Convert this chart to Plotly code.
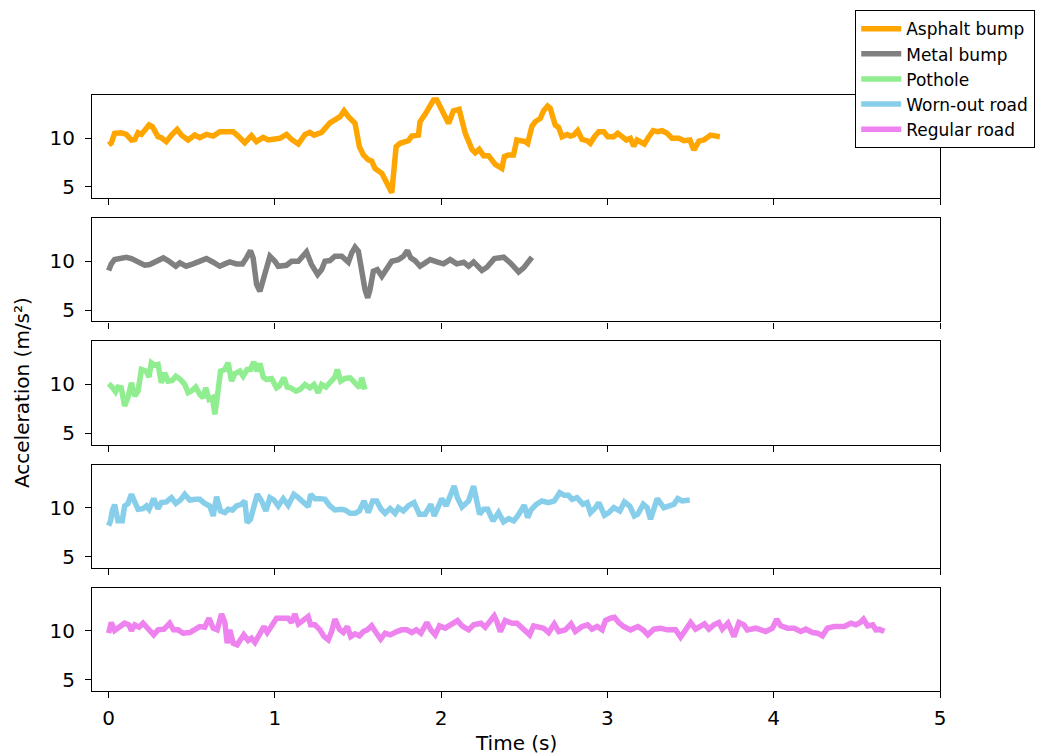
import plotly.graph_objects as go
from plotly.subplots import make_subplots

series_names = ["Asphalt bump", "Metal bump", "Pothole", "Worn-out road", "Regular road"]
series_colors = ["#FFA500", "#808080", "#90EE90", "#87CEEB", "#EE82EE"]

t_asphalt = [0, 0.016, 0.036, 0.076, 0.106, 0.137, 0.157, 0.177, 0.197, 0.217,
             0.243, 0.263, 0.297, 0.317, 0.347, 0.378, 0.412, 0.438, 0.478, 0.518,
             0.548, 0.588, 0.629, 0.669, 0.749, 0.779, 0.819, 0.859, 0.889, 0.929,
             0.96, 1.03, 1.07, 1.1, 1.141, 1.181, 1.21, 1.235, 1.281, 1.331,
             1.371, 1.392, 1.416, 1.442, 1.482, 1.508, 1.532, 1.562, 1.582, 1.602,
             1.643, 1.663, 1.693, 1.703, 1.729, 1.753, 1.803, 1.823, 1.863, 1.873,
             1.904, 1.954, 1.974, 2.014, 2.044, 2.074, 2.108, 2.145, 2.185, 2.205,
             2.229, 2.255, 2.285, 2.325, 2.365, 2.38, 2.405, 2.435, 2.455, 2.506,
             2.52, 2.546, 2.566, 2.596, 2.616, 2.64, 2.656, 2.686, 2.706, 2.727,
             2.757, 2.777, 2.797, 2.821, 2.847, 2.877, 2.897, 2.922, 2.948, 2.978,
             3.002, 3.038, 3.062, 3.088, 3.114, 3.138, 3.158, 3.178, 3.2, 3.222,
             3.249, 3.275, 3.299, 3.329, 3.359, 3.389, 3.43, 3.46, 3.496, 3.52,
             3.55, 3.58, 3.62, 3.676]
a_asphalt = [9.3, 9.5, 10.48, 10.54, 10.37, 9.8, 9.86, 10.54, 10.37, 10.8,
             11.33, 11.16, 10.14, 10.03, 9.63, 10.3, 10.88, 10.3, 9.8, 10.3,
             10.03, 10.37, 10.2, 10.65, 10.65, 10.2, 9.52, 10.24, 9.63, 10.07,
             9.8, 9.97, 10.37, 9.86, 9.39, 10.37, 10.58, 10.3, 10.58, 11.56,
             12.07, 12.18, 12.79, 12.18, 11.5, 9.12, 8.27, 7.76, 7.65, 6.9,
             6.4, 5.71, 4.46, 4.42, 9.12, 9.46, 9.73, 10.2, 10.3, 11.67,
             12.45, 13.88, 13.88, 12.35, 11.5, 12.79, 12.93, 10.48, 8.84, 8.5,
             8.84, 8.2, 8.2, 7.31, 6.9, 8.1, 8.27, 8.27, 9.8, 9.63,
             9.46, 11.2, 11.67, 12.0, 12.79, 13.27, 13.03, 11.33, 11.09, 10.14,
             10.37, 10.2, 10.3, 10.75, 9.86, 9.73, 9.46, 10.14, 10.65, 10.65,
             10.14, 10.14, 10.48, 10.14, 9.8, 9.97, 9.18, 9.8, 9.63, 9.39,
             10.14, 10.75, 10.65, 10.75, 10.48, 9.97, 9.97, 9.73, 9.8, 8.78,
             9.69, 9.8, 10.3, 10.14]

t_metal = [0, 0.016, 0.036, 0.066, 0.106, 0.137, 0.167, 0.217, 0.247, 0.287,
           0.329, 0.357, 0.404, 0.428, 0.466, 0.508, 0.548, 0.588, 0.629, 0.668,
           0.699, 0.729, 0.769, 0.805, 0.829, 0.853, 0.869, 0.89, 0.91, 0.94,
           0.97, 1.0, 1.02, 1.07, 1.1, 1.141, 1.19, 1.22, 1.257, 1.281,
           1.301, 1.331, 1.361, 1.402, 1.442, 1.462, 1.482, 1.502, 1.522, 1.542,
           1.558, 1.572, 1.592, 1.616, 1.643, 1.673, 1.703, 1.743, 1.773, 1.797,
           1.817, 1.843, 1.873, 1.904, 1.934, 1.974, 2.014, 2.054, 2.094, 2.135,
           2.165, 2.195, 2.245, 2.275, 2.32, 2.345, 2.376, 2.416, 2.466, 2.496,
           2.546]
a_metal = [9.05, 9.73, 10.17, 10.27, 10.41, 10.27, 10.0, 9.59, 9.66, 10.07,
           10.34, 10.07, 9.49, 9.83, 9.49, 9.73, 10.0, 10.27, 9.9, 9.49,
           9.73, 9.93, 9.73, 9.73, 10.34, 11.09, 10.34, 7.62, 6.94, 8.98,
           10.51, 10.0, 9.49, 9.59, 10.0, 10.0, 10.95, 9.66, 8.64, 9.15,
           10.0, 10.07, 10.51, 10.51, 9.9, 10.85, 11.43, 11.02, 8.81, 7.11,
           6.26, 7.11, 8.98, 9.15, 8.47, 9.32, 10.0, 10.17, 10.51, 11.09,
           10.34, 10.07, 9.49, 9.83, 10.17, 9.93, 9.73, 10.17, 9.73, 9.9,
           9.49, 9.93, 9.05, 9.39, 10.27, 10.34, 10.41, 9.83, 8.91, 9.32,
           10.41]

t_pothole = [0, 0.016, 0.042, 0.056, 0.076, 0.096, 0.116, 0.137, 0.157, 0.177,
             0.197, 0.227, 0.243, 0.257, 0.277, 0.297, 0.317, 0.337, 0.357, 0.383,
             0.404, 0.432, 0.458, 0.478, 0.498, 0.524, 0.548, 0.568, 0.584, 0.604,
             0.624, 0.639, 0.653, 0.673, 0.699, 0.719, 0.739, 0.759, 0.789, 0.809,
             0.833, 0.853, 0.873, 0.89, 0.91, 0.93, 0.95, 0.98, 1.01, 1.026,
             1.054, 1.074, 1.094, 1.127, 1.151, 1.181, 1.211, 1.235, 1.261, 1.281,
             1.307, 1.335, 1.361, 1.375, 1.396, 1.422, 1.452, 1.472, 1.492, 1.508,
             1.522, 1.542]
a_pothole = [10.07, 9.83, 9.25, 9.73, 9.66, 7.79, 8.64, 10.17, 8.81, 9.32,
             11.53, 11.36, 10.75, 12.21, 11.97, 12.04, 10.17, 11.19, 10.34, 10.41,
             10.85, 10.51, 10.0, 9.15, 9.32, 9.73, 8.98, 8.64, 9.66, 8.47,
             8.64, 6.94, 8.64, 11.36, 11.53, 12.21, 10.34, 11.09, 11.36, 10.85,
             11.53, 11.53, 12.31, 11.36, 12.14, 10.75, 10.51, 10.61, 9.66, 9.83,
             10.68, 9.73, 9.66, 9.32, 9.49, 10.0, 9.66, 10.0, 9.15, 10.0,
             9.73, 10.17, 10.75, 11.53, 10.34, 10.61, 10.68, 10.34, 9.83, 9.66,
             10.68, 9.49]

t_worn = [0, 0.012, 0.022, 0.036, 0.056, 0.082, 0.096, 0.116, 0.137, 0.157,
          0.177, 0.207, 0.227, 0.243, 0.271, 0.297, 0.317, 0.347, 0.378, 0.404,
          0.432, 0.458, 0.488, 0.524, 0.548, 0.578, 0.608, 0.629, 0.649, 0.673,
          0.699, 0.719, 0.745, 0.769, 0.799, 0.819, 0.833, 0.853, 0.873, 0.894,
          0.92, 0.946, 0.97, 0.994, 1.02, 1.05, 1.08, 1.114, 1.141, 1.171,
          1.201, 1.215, 1.241, 1.271, 1.301, 1.331, 1.361, 1.402, 1.422, 1.452,
          1.482, 1.508, 1.536, 1.562, 1.588, 1.612, 1.636, 1.663, 1.693, 1.723,
          1.743, 1.773, 1.803, 1.837, 1.869, 1.903, 1.938, 1.958, 1.978, 2.004,
          2.03, 2.054, 2.078, 2.098, 2.125, 2.165, 2.195, 2.231, 2.255, 2.28,
          2.311, 2.345, 2.375, 2.406, 2.436, 2.46, 2.5, 2.52, 2.54, 2.572,
          2.606, 2.646, 2.68, 2.713, 2.741, 2.765, 2.787, 2.817, 2.853, 2.878,
          2.898, 2.928, 2.948, 2.982, 3.008, 3.038, 3.074, 3.102, 3.134, 3.162,
          3.182, 3.215, 3.239, 3.259, 3.299, 3.339, 3.369, 3.399, 3.423, 3.449,
          3.495]
a_worn = [8.16, 8.67, 9.69, 10.31, 8.67, 8.67, 10.17, 10.41, 11.36, 10.68,
          9.83, 9.9, 10.17, 9.83, 10.92, 9.9, 10.51, 10.58, 11.02, 10.44,
          10.78, 11.36, 10.78, 10.85, 10.85, 10.44, 10.17, 9.15, 11.12, 9.66,
          9.49, 9.83, 9.76, 10.17, 10.34, 10.68, 8.47, 8.81, 10.17, 11.36,
          10.68, 9.66, 11.02, 10.78, 10.17, 10.92, 10.24, 11.36, 11.02, 10.51,
          10.1, 11.36, 10.92, 10.92, 10.85, 10.17, 9.76, 9.83, 9.76, 9.42,
          9.42, 9.66, 10.68, 9.49, 10.68, 10.68, 9.9, 9.42, 9.9, 9.42,
          10.0, 9.66, 10.2, 10.51, 9.32, 9.32, 10.34, 9.15, 9.9, 10.92,
          10.17, 11.36, 12.21, 11.02, 10.07, 10.68, 12.21, 9.32, 9.83, 9.83,
          8.64, 9.49, 8.54, 8.88, 8.64, 9.15, 10.24, 8.98, 9.76, 10.34,
          10.68, 10.51, 10.68, 11.53, 11.26, 11.26, 10.85, 11.02, 10.34, 10.51,
          9.49, 10.0, 10.51, 9.22, 9.49, 10.0, 9.66, 10.58, 10.17, 9.15,
          9.32, 10.34, 10.0, 8.81, 10.92, 10.0, 10.17, 10.34, 10.92, 10.68,
          10.78]

t_regular = [0, 0.016, 0.036, 0.07, 0.096, 0.122, 0.137, 0.157, 0.183, 0.207,
             0.237, 0.271, 0.297, 0.333, 0.367, 0.39, 0.418, 0.448, 0.488, 0.518,
             0.548, 0.578, 0.604, 0.629, 0.653, 0.679, 0.699, 0.713, 0.729, 0.749,
             0.773, 0.793, 0.813, 0.839, 0.859, 0.88, 0.9, 0.914, 0.934, 0.954,
             0.986, 1.01, 1.04, 1.08, 1.1, 1.12, 1.141, 1.171, 1.2, 1.215,
             1.241, 1.271, 1.295, 1.321, 1.341, 1.361, 1.388, 1.412, 1.436, 1.456,
             1.482, 1.508, 1.532, 1.556, 1.582, 1.608, 1.636, 1.663, 1.693, 1.733,
             1.763, 1.793, 1.823, 1.85, 1.878, 1.914, 1.938, 1.964, 1.99, 2.024,
             2.054, 2.098, 2.125, 2.165, 2.195, 2.239, 2.265, 2.295, 2.319, 2.335,
             2.356, 2.385, 2.426, 2.456, 2.5, 2.532, 2.556, 2.586, 2.616, 2.646,
             2.68, 2.707, 2.747, 2.781, 2.807, 2.847, 2.881, 2.907, 2.938, 2.968,
             2.988, 3.018, 3.042, 3.068, 3.098, 3.139, 3.183, 3.215, 3.243, 3.279,
             3.319, 3.359, 3.41, 3.44, 3.47, 3.5, 3.53, 3.56, 3.584, 3.61,
             3.64, 3.67, 3.691, 3.725, 3.761, 3.791, 3.821, 3.841, 3.892, 3.952,
             3.992, 4.018, 4.042, 4.083, 4.123, 4.163, 4.193, 4.233, 4.263, 4.293,
             4.323, 4.364, 4.424, 4.464, 4.494, 4.52, 4.54, 4.565, 4.595, 4.615,
             4.635, 4.665]
a_regular = [9.76, 10.85, 10.03, 10.51, 10.78, 10.61, 10.03, 10.61, 10.37, 10.78,
             10.27, 9.59, 10.1, 10.17, 10.78, 10.1, 10.1, 9.76, 9.83, 10.1,
             10.44, 10.37, 11.29, 10.27, 10.1, 11.73, 10.85, 8.74, 10.1, 8.74,
             8.57, 9.08, 9.59, 9.01, 9.25, 8.81, 9.42, 9.59, 10.44, 9.83,
             10.71, 11.29, 11.29, 11.29, 10.85, 11.73, 10.71, 11.12, 11.46, 10.61,
             10.61, 10.1, 9.42, 9.08, 9.93, 11.19, 10.17, 9.83, 10.44, 9.42,
             9.69, 9.49, 9.93, 10.1, 10.51, 9.83, 9.15, 9.76, 9.59, 9.93,
             10.1, 10.1, 9.83, 10.1, 9.76, 10.85, 10.1, 9.59, 10.51, 10.27,
             10.61, 11.05, 10.51, 10.1, 10.61, 10.78, 10.37, 11.05, 11.53, 10.95,
             9.93, 11.05, 10.78, 10.78, 10.1, 9.59, 10.51, 10.44, 10.27, 9.83,
             10.71, 9.93, 10.1, 10.71, 9.93, 10.44, 10.61, 10.17, 10.44, 10.1,
             11.05, 11.29, 11.39, 10.85, 10.44, 10.1, 10.44, 10.1, 9.59, 10.17,
             10.27, 10.1, 10.1, 9.35, 10.1, 10.85, 10.17, 10.51, 10.71, 10.17,
             10.61, 10.85, 10.17, 10.78, 9.42, 10.85, 10.61, 10.1, 10.27, 9.93,
             10.27, 11.19, 10.51, 10.27, 10.27, 9.93, 10.17, 9.83, 9.76, 9.49,
             10.27, 10.44, 10.44, 10.78, 10.61, 10.85, 11.19, 10.51, 10.61, 10.1,
             10.17, 9.93]

x_ticks = [0, 1, 2, 3, 4, 5]
y_ticks = [5, 10]

times = [t_asphalt, t_metal, t_pothole, t_worn, t_regular]
values = [a_asphalt, a_metal, a_pothole, a_worn, a_regular]

FONT = "DejaVu Sans"

fig = make_subplots(rows=5, cols=1, shared_xaxes=True, vertical_spacing=20 / 596)

for i, (name, color, t, a) in enumerate(zip(series_names, series_colors, times, values)):
    fig.add_trace(go.Scatter(x=t, y=a, mode="lines", name=name,
                             line=dict(color=color, width=5.5, shape="linear")),
                  row=i + 1, col=1)

axis_common = dict(showline=True, mirror=True, linecolor="black", linewidth=1.2,
                   ticks="outside", ticklen=6, tickwidth=1.2, tickcolor="black",
                   showgrid=False, zeroline=False,
                   tickfont=dict(family=FONT, size=20, color="black"))

for i in range(5):
    fig.update_xaxes(range=[-0.1, 5.0], tickvals=x_ticks, row=i + 1, col=1,
                     ticklabelstandoff=3, **axis_common)
    fig.update_yaxes(range=[3.85, 14.4], tickvals=y_ticks, row=i + 1, col=1,
                     ticklabelstandoff=6, **axis_common)

fig.add_annotation(text="Time (s)", xref="paper", yref="paper", x=0.5, y=-0.0875,
                   xanchor="center", yanchor="middle", showarrow=False,
                   font=dict(family=FONT, size=20, color="black"))
fig.add_annotation(text="Acceleration (m/s²)", xref="paper", yref="paper",
                   x=-0.0825, y=0.5, xanchor="center", yanchor="middle",
                   textangle=-90, showarrow=False,
                   font=dict(family=FONT, size=20, color="black"))

fig.update_layout(
    width=1043, height=756,
    margin=dict(l=92, r=103, t=95, b=65, autoexpand=False),
    plot_bgcolor="white", paper_bgcolor="white",
    font=dict(family=FONT, color="black"),
    legend=dict(x=0.8998, y=1.1426, xanchor="left", yanchor="top",
                bordercolor="black", borderwidth=1.2, bgcolor="white",
                font=dict(family=FONT, size=17, color="black"),
                tracegroupgap=0, itemwidth=40),
    showlegend=True,
)

fig.write_html("out.html")
